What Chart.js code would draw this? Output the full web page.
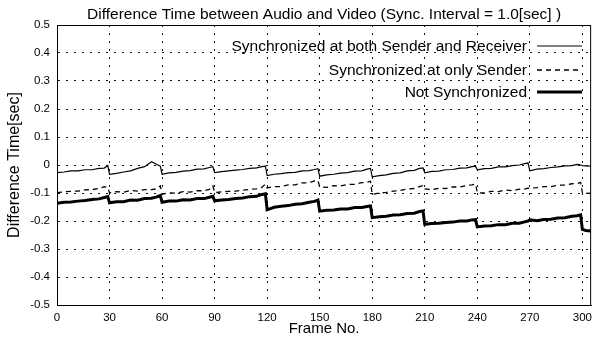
<!DOCTYPE html>
<html>
<head>
<meta charset="utf-8">
<script src="https://cdn.jsdelivr.net/npm/chart.js@4/dist/chart.umd.min.js"></script>
<style>
  html, body { margin: 0; padding: 0; background: #fff; }
  #wrap { width: 598px; height: 340px; }
</style>
</head>
<body>
<div id="wrap"><canvas id="syncChart" width="598" height="340"></canvas></div>
<script>
const frames = [
    0, 4, 8, 12, 16, 20, 24, 27, 29,
    30, 34, 38, 42, 46, 50, 54, 57, 59,
    60, 64, 68, 72, 76, 80, 84, 87, 89,
    90, 94, 98, 102, 106, 110, 114, 117, 119,
    120, 124, 128, 132, 136, 140, 144, 147, 149,
    150, 154, 158, 162, 166, 170, 174, 177, 179,
    180, 184, 188, 192, 196, 200, 204, 207, 209,
    210, 214, 218, 222, 226, 230, 234, 237, 239,
    240, 244, 248, 252, 256, 260, 264, 267, 269,
    270, 274, 278, 282, 286, 290, 294, 297, 299,
    300, 302, 305
];

// synchronized at both sender and receiver
const bothSync = [
    -0.027, -0.025, -0.021, -0.021, -0.017, -0.017, -0.012, -0.011, -0.002,
    -0.033, -0.030, -0.025, -0.021, -0.012, -0.006, 0.012, 0.002, -0.004,
    -0.033, -0.028, -0.026, -0.022, -0.020, -0.015, -0.014, -0.009, -0.006,
    -0.027, -0.024, -0.021, -0.018, -0.016, -0.012, -0.010, -0.006, -0.004,
    -0.038, -0.033, -0.031, -0.027, -0.026, -0.021, -0.020, -0.016, -0.013,
    -0.040, -0.035, -0.033, -0.029, -0.027, -0.022, -0.021, -0.015, -0.012,
    -0.042, -0.038, -0.035, -0.030, -0.028, -0.021, -0.019, -0.012, -0.010,
    -0.028, -0.023, -0.022, -0.017, -0.016, -0.011, -0.010, -0.006, -0.004,
    -0.017, -0.013, -0.012, -0.007, -0.007, -0.002, 0.000, 0.005, 0.007,
    -0.021, -0.015, -0.013, -0.009, -0.007, -0.003, -0.002, 0.002, 0.000,
    -0.002, -0.003, -0.004
];

// synchronized at only sender
const senderSync = [
    -0.099, -0.096, -0.094, -0.093, -0.089, -0.088, -0.084, -0.077, -0.080,
    -0.100, -0.095, -0.097, -0.091, -0.093, -0.088, -0.088, -0.085, -0.075,
    -0.104, -0.099, -0.101, -0.095, -0.097, -0.092, -0.092, -0.087, -0.074,
    -0.099, -0.096, -0.094, -0.093, -0.090, -0.087, -0.085, -0.080, -0.068,
    -0.082, -0.077, -0.077, -0.071, -0.071, -0.064, -0.064, -0.057, -0.055,
    -0.078, -0.080, -0.074, -0.075, -0.069, -0.069, -0.063, -0.062, -0.058,
    -0.105, -0.100, -0.098, -0.093, -0.091, -0.086, -0.084, -0.077, -0.073,
    -0.085, -0.088, -0.083, -0.084, -0.078, -0.079, -0.073, -0.071, -0.068,
    -0.099, -0.100, -0.094, -0.095, -0.089, -0.092, -0.086, -0.086, -0.083,
    -0.082, -0.081, -0.077, -0.077, -0.072, -0.072, -0.067, -0.066, -0.062,
    -0.099, -0.100, -0.101
];

// not synchronized
const noSync = [
    -0.137, -0.133, -0.132, -0.129, -0.127, -0.123, -0.121, -0.116, -0.113,
    -0.135, -0.131, -0.131, -0.125, -0.126, -0.120, -0.119, -0.114, -0.109,
    -0.133, -0.129, -0.129, -0.124, -0.125, -0.120, -0.120, -0.115, -0.112,
    -0.128, -0.125, -0.123, -0.120, -0.118, -0.113, -0.112, -0.105, -0.103,
    -0.160, -0.151, -0.147, -0.145, -0.140, -0.138, -0.133, -0.130, -0.125,
    -0.165, -0.162, -0.161, -0.157, -0.157, -0.152, -0.152, -0.148, -0.146,
    -0.188, -0.185, -0.183, -0.179, -0.178, -0.173, -0.172, -0.166, -0.164,
    -0.212, -0.209, -0.208, -0.205, -0.204, -0.200, -0.200, -0.196, -0.195,
    -0.221, -0.218, -0.217, -0.213, -0.213, -0.208, -0.208, -0.203, -0.200,
    -0.196, -0.199, -0.195, -0.194, -0.189, -0.188, -0.183, -0.181, -0.178,
    -0.230, -0.234, -0.236
];

const seriesLabels = [
    "Synchronized at both Sender and Receiver",
    "Synchronized at only Sender",
    "Not Synchronized"
];

const chartTitle = 'Difference Time between Audio and Video (Sync. Interval = 1.0[sec] )';

const FONT = "'Liberation Sans', Arial, Helvetica, sans-serif";

function toPoints(values) {
    return frames.map((f, i) => ({ x: f, y: values[i] }));
}

// title over the plot area, box around the plot, right-aligned legend
const frameAndLegend = {
    id: 'frameAndLegend',
    afterDatasetsDraw(chart) {
        const { ctx, chartArea } = chart;
        ctx.save();
        ctx.strokeStyle = '#000';
        ctx.lineWidth = 1;
        ctx.setLineDash([]);
        ctx.strokeRect(chartArea.left + 0.5, chartArea.top + 0.5,
            chartArea.right - chartArea.left - 1, chartArea.bottom - chartArea.top);

        ctx.fillStyle = '#000';
        ctx.font = '15.5px ' + FONT;
        ctx.textAlign = 'center';
        ctx.textBaseline = 'middle';
        ctx.fillText(chartTitle, (chartArea.left + chartArea.right) / 2, 15);

        const rows = [47, 71, 93];
        const textRight = 527;
        ctx.textAlign = 'right';
        chart.data.datasets.forEach((ds, i) => {
            const y = rows[i];
            ctx.fillText(ds.label, textRight, y);
            ctx.beginPath();
            ctx.lineWidth = ds.borderWidth;
            ctx.setLineDash(ds.borderDash || []);
            ctx.moveTo(537, y - 1);
            ctx.lineTo(582, y - 1);
            ctx.stroke();
        });
        ctx.restore();
    }
};

const ctx = document.getElementById('syncChart').getContext('2d');
new Chart(ctx, {
    type: 'line',
    data: {
        datasets: [{
            label: seriesLabels[0],
            data: toPoints(bothSync),
            borderColor: '#000',
            borderWidth: 1.2,
            pointRadius: 0,
            tension: 0,
            fill: false
        }, {
            label: seriesLabels[1],
            data: toPoints(senderSync),
            borderColor: '#000',
            borderWidth: 1.3,
            borderDash: [5, 4],
            pointRadius: 0,
            tension: 0,
            fill: false
        }, {
            label: seriesLabels[2],
            data: toPoints(noSync),
            borderColor: '#000',
            borderWidth: 3,
            pointRadius: 0,
            tension: 0,
            fill: false
        }]
    },
    options: {
        responsive: false,
        animation: false,
        layout: { padding: { left: 0, right: 2, top: 25, bottom: 0 } },
        plugins: {
            legend: { display: false },
            tooltip: { enabled: false },
            title: { display: false }
        },
        scales: {
            x: {
                type: 'linear',
                min: 0,
                max: 305,
                afterFit: s => { s.height = 35; },
                ticks: {
                    stepSize: 30,
                    includeBounds: false,
                    autoSkip: false,
                    maxRotation: 0,
                    padding: 6,
                    color: '#000',
                    font: { family: FONT, size: 11.5 }
                },
                grid: { color: '#111', lineWidth: 1, drawTicks: false },
                border: { display: true, color: '#000', dash: [2, 6] },
                title: {
                    display: true,
                    text: 'Frame No.',
                    color: '#000',
                    font: { family: FONT, size: 15 },
                    padding: 2
                }
            },
            y: {
                min: -0.5,
                max: 0.5,
                afterFit: s => { s.width = 57; },
                ticks: {
                    stepSize: 0.1,
                    padding: 7,
                    color: '#000',
                    font: { family: FONT, size: 11.5 },
                    callback: v => String(Math.round(v * 10) / 10)
                },
                grid: { color: '#111', lineWidth: 1, drawTicks: false },
                border: { display: true, color: '#000', dash: [2, 6] },
                title: {
                    display: true,
                    text: 'Difference Time[sec]',
                    color: '#000',
                    font: { family: FONT, size: 16 },
                    padding: 5
                }
            }
        }
    },
    plugins: [frameAndLegend]
});
</script>
</body>
</html>
